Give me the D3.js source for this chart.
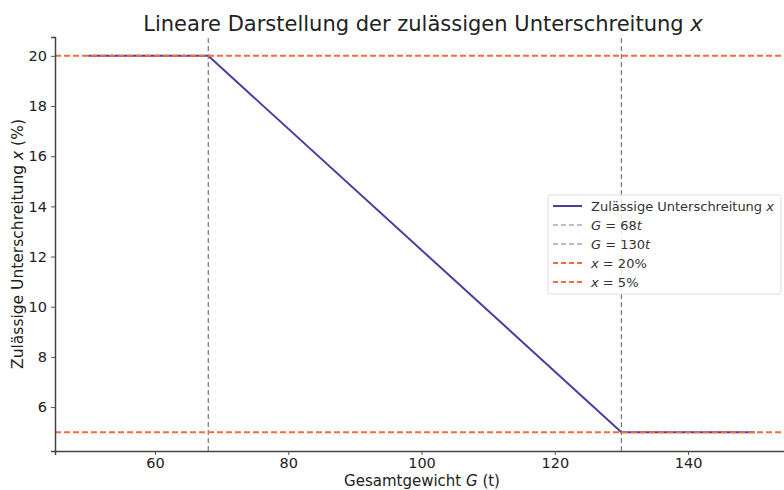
<!DOCTYPE html>
<html>
<head>
<meta charset="utf-8">
<script src="https://cdn.jsdelivr.net/npm/d3@7"></script>
<style>
  html, body { margin: 0; padding: 0; background: #fff; }
  svg { display: block; font-family: "DejaVu Sans", sans-serif; }
</style>
</head>
<body>
<svg id="chart" width="784" height="490"></svg>
<script>
// piecewise linear tolerance curve
const weights = [50, 68, 130, 150];
const tolerance = [20, 20, 5, 5];
const vLines = [68, 130];
const hLines = [20, 5];
const xTicks = [60, 80, 100, 120, 140];
const yTicks = [6, 8, 10, 12, 14, 16, 18, 20];
const legendItems = [
  { label: "Zulässige Unterschreitung ", math: "x", kind: "main" },
  { label: "G = 68", math: "t", kind: "grey" },
  { label: "G = 130", math: "t", kind: "grey" },
  { label: "x = 20%", kind: "red" },
  { label: "x = 5%", kind: "red" }
];

const colors = { main: "#4a3f9f", grey: "#7a7a7a", red: "#fb6a3e" };

const svg = d3.select("#chart");
const margin = { left: 55, right: -4, top: 37, bottom: 39 };
const width = 784, height = 490;

const x = d3.scaleLinear().domain([45, 155]).range([margin.left, width - margin.right]);
const y = d3.scaleLinear().domain([4.25, 20.75]).range([height - margin.bottom, margin.top]);

const plot = svg.append("g");

plot.append("path")
  .datum(weights.map((w, i) => [w, tolerance[i]]))
  .attr("fill", "none")
  .attr("stroke", colors.main)
  .attr("stroke-width", 2)
  .attr("d", d3.line().x((d) => x(d[0])).y((d) => y(d[1])));

plot.selectAll("line.v")
  .data(vLines)
  .join("line")
  .attr("x1", (d) => x(d)).attr("x2", (d) => x(d))
  .attr("y1", y.range()[0]).attr("y2", y.range()[1])
  .attr("stroke", colors.grey)
  .attr("stroke-width", 1.2)
  .attr("stroke-dasharray", "5,3");

plot.selectAll("line.h")
  .data(hLines)
  .join("line")
  .attr("x1", x.range()[0]).attr("x2", x.range()[1])
  .attr("y1", (d) => y(d)).attr("y2", (d) => y(d))
  .attr("stroke", colors.red)
  .attr("stroke-width", 2)
  .attr("stroke-dasharray", "6,3");

// axes
const xAxis = svg.append("g")
  .attr("transform", `translate(0,${y.range()[0]})`)
  .call(d3.axisBottom(x).tickValues(xTicks).tickSize(4).tickPadding(3).tickFormat(d3.format("d")));
const yAxis = svg.append("g")
  .attr("transform", `translate(${x.range()[0]},0)`)
  .call(d3.axisLeft(y).tickValues(yTicks).tickSize(4).tickPadding(4).tickFormat(d3.format("d")));

[xAxis, yAxis].forEach((axis) => {
  axis.select(".domain").attr("stroke", "#444").attr("stroke-width", 1.5);
  axis.selectAll(".tick line").attr("stroke", "#555");
  axis.selectAll(".tick text").attr("fill", "#222").style("font-size", "14.5px").style("font-family", "DejaVu Sans");
});

// labels
svg.append("text")
  .attr("x", 423).attr("y", 31)
  .attr("text-anchor", "middle")
  .attr("fill", "#222")
  .style("font-size", "21px")
  .text("Lineare Darstellung der zulässigen Unterschreitung ")
  .append("tspan").attr("font-style", "italic").text("x");

svg.append("text")
  .attr("x", 422).attr("y", 486)
  .attr("text-anchor", "middle")
  .attr("fill", "#222")
  .style("font-size", "15px")
  .call((t) => {
    t.append("tspan").text("Gesamtgewicht ");
    t.append("tspan").attr("font-style", "italic").text("G");
    t.append("tspan").text(" (t)");
  });

svg.append("text")
  .attr("transform", `translate(23,${(y.range()[0] + y.range()[1]) / 2}) rotate(-90)`)
  .attr("text-anchor", "middle")
  .attr("fill", "#222")
  .style("font-size", "15.5px")
  .call((t) => {
    t.append("tspan").text("Zulässige Unterschreitung ");
    t.append("tspan").attr("font-style", "italic").text("x");
    t.append("tspan").text(" (%)");
  });

// legend
const legend = svg.append("g").attr("transform", "translate(548,195)");
legend.append("rect")
  .attr("width", 233).attr("height", 99).attr("rx", 2)
  .attr("fill", "#fff").attr("fill-opacity", 0.85)
  .attr("stroke", "#ddd");

const row = legend.selectAll("g.row")
  .data(legendItems)
  .join("g")
  .attr("transform", (d, i) => `translate(5,${11 + i * 19})`);

row.append("line")
  .attr("x1", 0).attr("x2", 29)
  .attr("stroke", (d) => colors[d.kind])
  .attr("stroke-width", (d) => d.kind === "grey" ? 1.2 : 2)
  .attr("stroke-dasharray", (d) => d.kind === "main" ? null : "5,3");

row.append("text")
  .attr("x", 38).attr("y", 4.5)
  .attr("fill", "#333")
  .style("font-size", "13px")
  .each(function (d) {
    const t = d3.select(this);
    if (d.kind === "main") {
      t.append("tspan").text(d.label);
      t.append("tspan").attr("font-style", "italic").text(d.math);
    } else if (d.kind === "grey") {
      t.append("tspan").attr("font-style", "italic").text("G");
      t.append("tspan").text(d.label.slice(1));
      t.append("tspan").attr("font-style", "italic").text(d.math);
    } else {
      t.append("tspan").attr("font-style", "italic").text("x");
      t.append("tspan").text(d.label.slice(1));
    }
  });
</script>
</body>
</html>
